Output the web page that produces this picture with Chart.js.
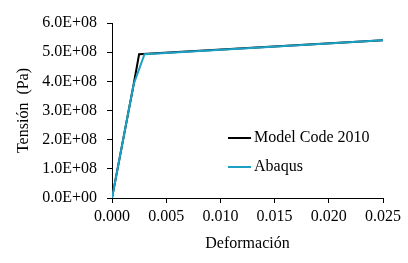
<!DOCTYPE html>
<html>
<head>
<meta charset="utf-8">
<script src="https://cdn.jsdelivr.net/npm/chart.js@4.4.1/dist/chart.umd.min.js"></script>
<style>
  html, body { margin: 0; padding: 0; background: #fff; }
  #wrap { width: 408px; height: 263px; }
</style>
</head>
<body>
<div id="wrap"><canvas id="c" width="408" height="263"></canvas></div>
<script>
  // datos
  const modelCodeStrain = [0, 0.002, 0.0025, 0.025];
  const modelCodeStress = [0, 3.9e8, 4.93e8, 5.41e8];
  const abaqusStrain = [0, 0.002, 0.003, 0.025];
  const abaqusStress = [0, 3.9e8, 4.93e8, 5.41e8];
  const seriesNames = ["Model Code 2010", "Abaqus"];
  const seriesColors = ["#000000", "#1ba1c3"];
  const xTicks = [0, 0.005, 0.01, 0.015, 0.02, 0.025];
  const yTicks = [0, 1e8, 2e8, 3e8, 4e8, 5e8, 6e8];

  const FONT = "'Liberation Serif', 'Times New Roman', serif";

  function toPoints(xs, ys) { return xs.map((x, i) => ({ x, y: ys[i] })); }

  function sci(v) {
    const [m, e] = v.toExponential(1).toUpperCase().split("E");
    const n = parseInt(e, 10);
    return m + "E" + (n < 0 ? "-" : "+") + String(Math.abs(n)).padStart(2, "0");
  }

  // leyenda dibujada dentro del área del gráfico
  const innerLegend = {
    id: "innerLegend",
    afterDatasetsDraw(chart) {
      const { ctx, chartArea } = chart;
      const x0 = chartArea.left + 116;
      let y = chartArea.top + 115;
      ctx.save();
      ctx.font = "16px " + FONT;
      ctx.textBaseline = "middle";
      seriesNames.forEach((name, i) => {
        ctx.strokeStyle = seriesColors[i];
        ctx.lineWidth = 2;
        ctx.beginPath();
        ctx.moveTo(x0, y);
        ctx.lineTo(x0 + 23, y);
        ctx.stroke();
        ctx.fillStyle = "#000";
        ctx.fillText(name, x0 + 26, y);
        y += 29;
      });
      ctx.restore();
    }
  };

  new Chart(document.getElementById("c"), {
    type: "scatter",
    data: {
      datasets: [
        {
          label: seriesNames[0],
          data: toPoints(modelCodeStrain, modelCodeStress),
          showLine: true,
          borderColor: seriesColors[0],
          backgroundColor: seriesColors[0],
          borderWidth: 2,
          pointRadius: 0,
          tension: 0,
          order: 1
        },
        {
          label: seriesNames[1],
          data: toPoints(abaqusStrain, abaqusStress),
          showLine: true,
          borderColor: seriesColors[1],
          backgroundColor: seriesColors[1],
          borderWidth: 2,
          pointRadius: 0,
          tension: 0,
          order: 0
        }
      ]
    },
    options: {
      responsive: false,
      animation: false,
      layout: { padding: { top: 23, right: 25, left: 14, bottom: 10 } },
      plugins: { legend: { display: false }, tooltip: { enabled: false } },
      scales: {
        x: {
          type: "linear",
          min: 0,
          max: 0.025,
          afterBuildTicks: axis => { axis.ticks = xTicks.map(v => ({ value: v })); },
          afterFit: axis => { axis.height = 55; },
          ticks: {
            color: "#000",
            font: { family: FONT, size: 16 },
            padding: 4,
            maxRotation: 0,
            callback: v => v.toFixed(3)
          },
          grid: { drawOnChartArea: false, drawTicks: true, tickLength: 5, color: "#000" },
          border: { color: "#000", width: 1 },
          title: {
            display: true,
            text: "Deformación",
            color: "#000",
            font: { family: FONT, size: 16 },
            padding: { top: 0, bottom: 0 }
          }
        },
        y: {
          type: "linear",
          min: 0,
          max: 6e8,
          afterBuildTicks: axis => { axis.ticks = yTicks.map(v => ({ value: v })); },
          afterFit: axis => { axis.width = 98; },
          ticks: {
            color: "#000",
            font: { family: FONT, size: 16 },
            padding: 10,
            callback: v => sci(v)
          },
          grid: { drawOnChartArea: false, drawTicks: true, tickLength: 5, color: "#000" },
          border: { color: "#000", width: 1 },
          title: {
            display: true,
            text: "Tensión  (Pa)",
            color: "#000",
            font: { family: FONT, size: 16 },
            padding: { top: 0, bottom: 0 }
          }
        }
      }
    },
    plugins: [innerLegend]
  });
</script>
</body>
</html>
